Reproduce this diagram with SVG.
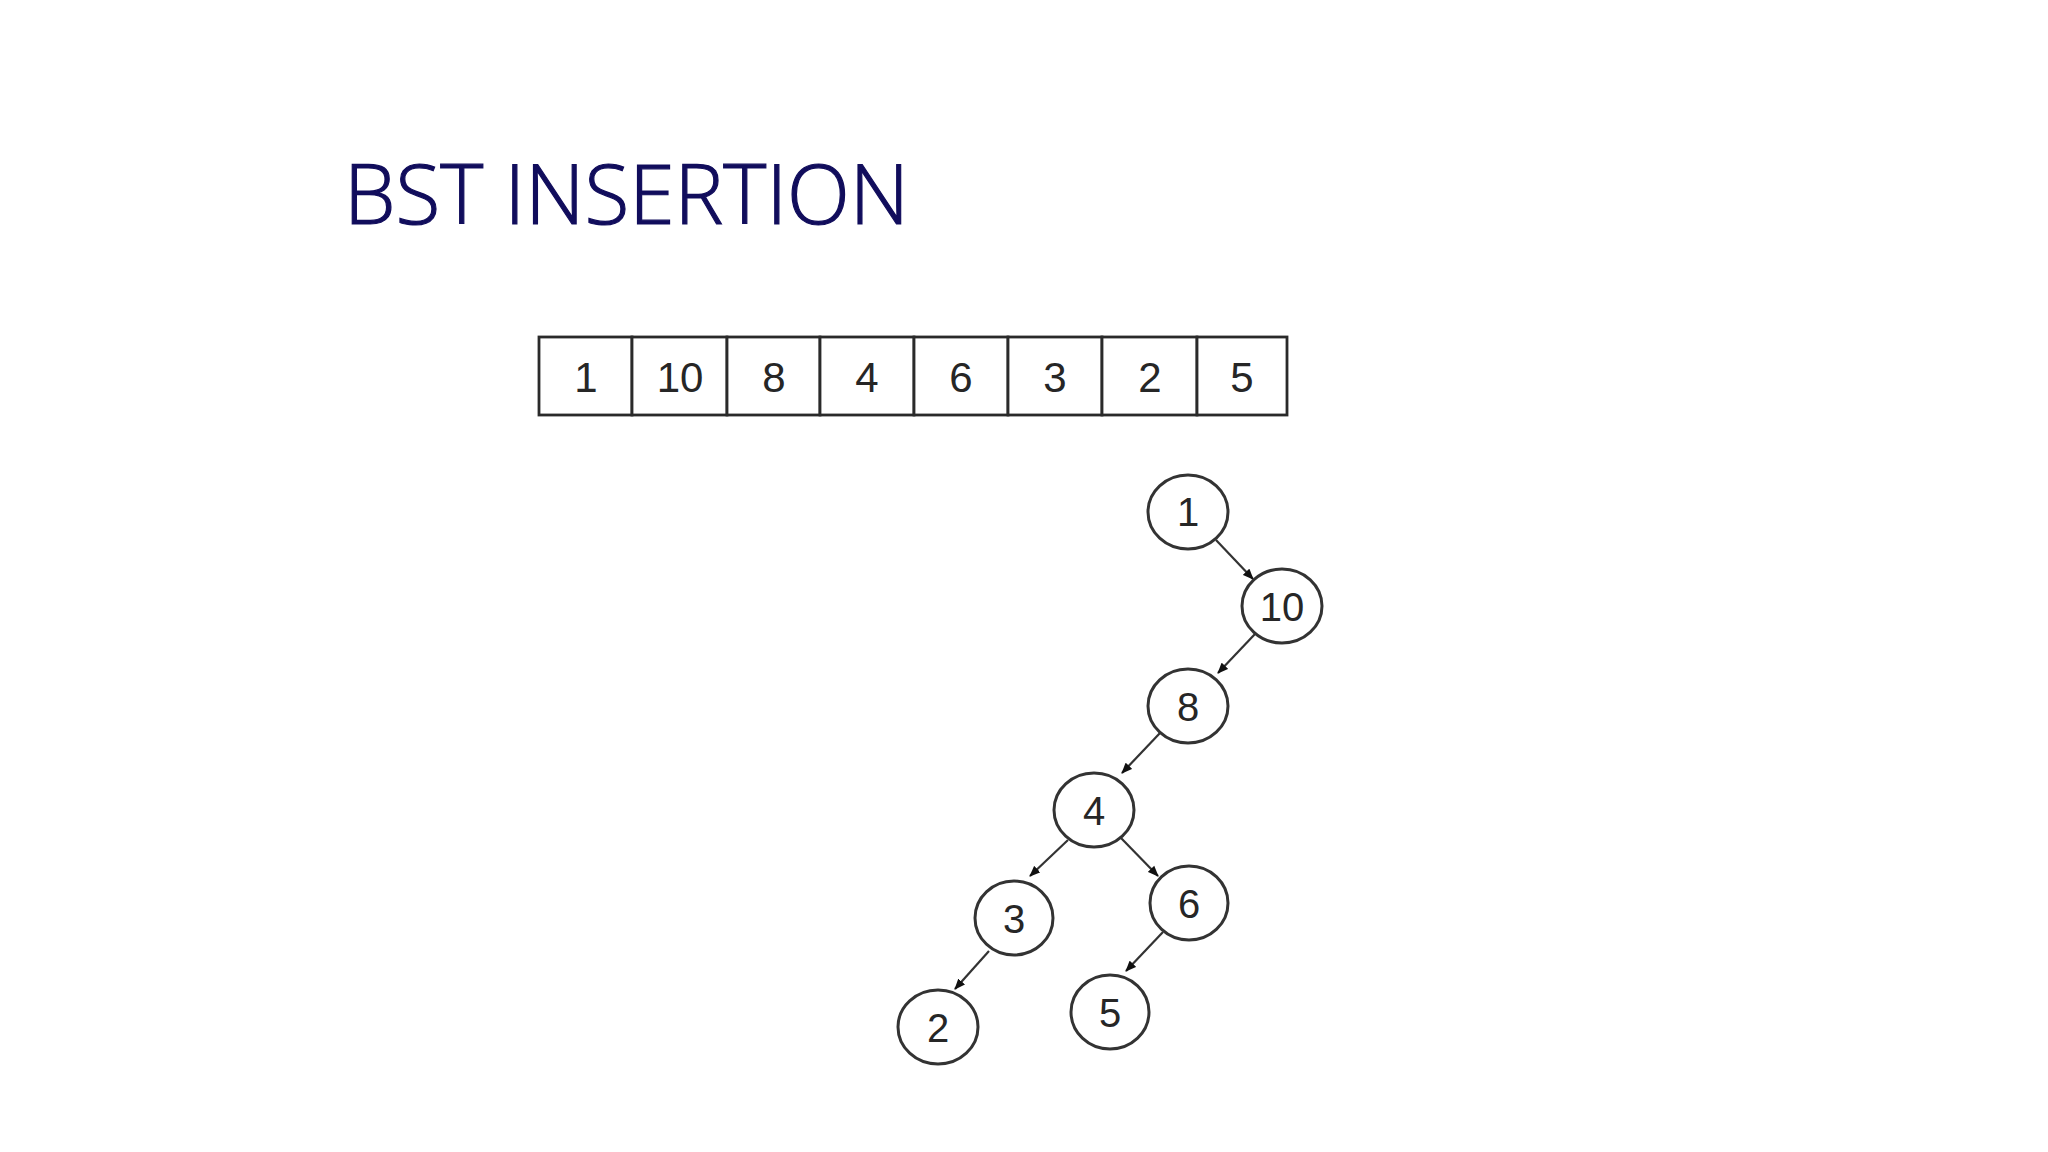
<svg xmlns="http://www.w3.org/2000/svg" width="2048" height="1152" viewBox="0 0 2048 1152">
<style>
.title{font-family:"Open Sans","Liberation Sans",sans-serif;font-weight:300;font-size:83px;fill:#110d5c;stroke:#110d5c;stroke-width:1.2}
.cell{fill:#ffffff;stroke:#2a2a2a;stroke-width:2.8}
.cellt{font-family:"Liberation Sans",Arial,sans-serif;font-size:42px;fill:#262626;text-anchor:middle}
.node ellipse{fill:#ffffff;stroke:#333333;stroke-width:3}
.node text{font-family:"Liberation Sans",Arial,sans-serif;font-size:40px;fill:#262626;text-anchor:middle}
.edge{stroke:#333333;stroke-width:2.2;fill:none;marker-end:url(#arr)}
</style>
<defs>
<marker id="arr" markerUnits="userSpaceOnUse" markerWidth="11" markerHeight="10" refX="10" refY="5" orient="auto">
<path d="M0,0.5 L11,5 L0,9.5 z" fill="#111111"/>
</marker>
</defs>
<rect width="2048" height="1152" fill="#ffffff"/>
<text class="title" x="344" y="224" textLength="565" lengthAdjust="spacingAndGlyphs">BST INSERTION</text>
<g id="array">
<rect class="cell" x="539" y="337" width="93" height="78"/>
<rect class="cell" x="632" y="337" width="95" height="78"/>
<rect class="cell" x="727" y="337" width="93" height="78"/>
<rect class="cell" x="820" y="337" width="94" height="78"/>
<rect class="cell" x="914" y="337" width="94" height="78"/>
<rect class="cell" x="1008" y="337" width="94" height="78"/>
<rect class="cell" x="1102" y="337" width="95" height="78"/>
<rect class="cell" x="1197" y="337" width="90" height="78"/>
<text class="cellt" x="586" y="392">1</text>
<text class="cellt" x="680" y="392">10</text>
<text class="cellt" x="774" y="392">8</text>
<text class="cellt" x="867" y="392">4</text>
<text class="cellt" x="961" y="392">6</text>
<text class="cellt" x="1055" y="392">3</text>
<text class="cellt" x="1150" y="392">2</text>
<text class="cellt" x="1242" y="392">5</text>
</g>
<g id="connectors">
<line class="edge" x1="1216" y1="540" x2="1253" y2="579"/>
<line class="edge" x1="1255" y1="634" x2="1218" y2="673"/>
<line class="edge" x1="1160" y1="733" x2="1122" y2="773"/>
<line class="edge" x1="1068" y1="840" x2="1030" y2="876"/>
<line class="edge" x1="1121" y1="838" x2="1158" y2="876"/>
<line class="edge" x1="989" y1="951" x2="955" y2="989"/>
<line class="edge" x1="1163" y1="932" x2="1126" y2="971"/>
</g>
<g id="n1" class="node"><ellipse cx="1188" cy="512" rx="40" ry="37"/><text x="1188" y="526">1</text></g>
<g id="n10" class="node"><ellipse cx="1282" cy="606" rx="40" ry="37"/><text x="1282" y="621">10</text></g>
<g id="n8" class="node"><ellipse cx="1188" cy="706" rx="40" ry="37"/><text x="1188" y="721">8</text></g>
<g id="n4" class="node"><ellipse cx="1094" cy="810" rx="40" ry="37"/><text x="1094" y="825">4</text></g>
<g id="n3" class="node"><ellipse cx="1014" cy="918" rx="39" ry="37"/><text x="1014" y="933">3</text></g>
<g id="n6" class="node"><ellipse cx="1189" cy="903" rx="39" ry="37"/><text x="1189" y="918">6</text></g>
<g id="n2" class="node"><ellipse cx="938" cy="1027" rx="40" ry="37"/><text x="938" y="1042">2</text></g>
<g id="n5" class="node"><ellipse cx="1110" cy="1012" rx="39" ry="37"/><text x="1110" y="1027">5</text></g>
</svg>
